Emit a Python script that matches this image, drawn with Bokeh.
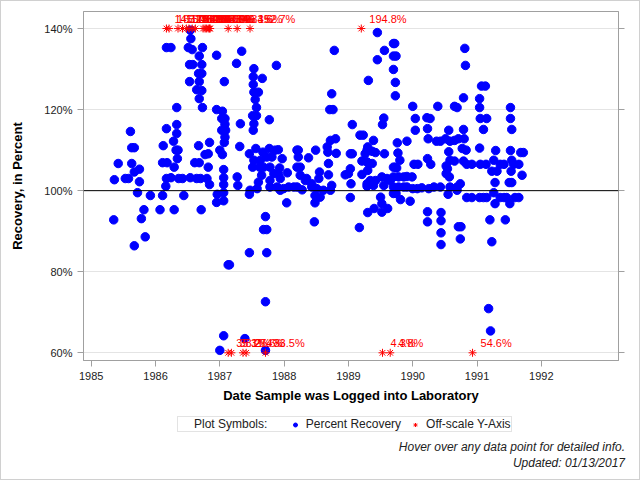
import numpy as np
from bokeh.plotting import figure
from bokeh.layouts import column
from bokeh.models import (Span, Legend, LegendItem, LinearAxis, FixedTicker, Div,
                          ColumnDataSource, Range1d)
from bokeh.core.properties import value
from bokeh.embed import file_html
from bokeh.resources import INLINE

# ---------------- data (decimal year, percent recovery) ----------------
rec_date = [
    1986.54, 1986.55, 1986.17, 1986.24, 1986.51, 1986.57, 1986.73, 1986.68, 1986.95, 1986.53,
    1986.58, 1986.72, 1986.67, 1986.72, 1986.53, 1986.68, 1987.07, 1986.64, 1986.72, 1986.68,
    1986.33, 1986.73, 1986.95, 1987.04, 1987.03, 1987.08, 1987.08, 1987.03, 1987.09, 1987.08,
    1987.07, 1987.00, 1987.04, 1985.61, 1985.63, 1985.67, 1986.17, 1986.33, 1986.33, 1986.28,
    1986.12, 1986.32, 1986.35, 1986.67, 1986.84, 1986.77, 1986.82, 1985.42, 1985.63, 1986.11,
    1986.18, 1986.34, 1986.29, 1986.61, 1986.68, 1986.82, 1985.67, 1985.75, 1985.36, 1985.53,
    1985.58, 1985.75, 1986.17, 1986.24, 1986.36, 1986.42, 1986.54, 1986.64, 1986.70, 1986.80,
    1986.84, 1986.16, 1987.06, 1987.06, 1987.06, 1987.27, 1987.28, 1985.72, 1985.92, 1986.11,
    1986.44, 1986.96, 1987.06, 1986.95, 1987.06, 1985.82, 1986.07, 1986.29, 1986.71, 1985.35,
    1985.78, 1985.84, 1985.67, 1987.13, 1987.15, 1987.06, 1987.00,
    1987.34, 1987.26, 1988.78, 1987.88, 1987.53, 1987.52, 1987.66, 1987.52, 1987.53, 1987.60,
    1987.55, 1987.57, 1987.51, 1987.57, 1987.53, 1987.52, 1987.32, 1987.77, 1988.74, 1988.71,
    1988.76, 1989.31, 1989.06, 1989.18, 1989.23, 1987.31,
    1987.46, 1987.56, 1987.67, 1987.77, 1987.86, 1987.91, 1988.20, 1988.22, 1988.49, 1988.67,
    1988.72, 1988.80, 1988.68, 1988.81, 1987.53, 1987.63, 1987.73, 1987.81, 1987.97, 1988.22,
    1988.38, 1988.69, 1987.51, 1987.62, 1987.68, 1987.78, 1987.93, 1988.20, 1988.25, 1988.55,
    1987.65, 1987.84, 1987.91, 1988.05, 1988.25, 1988.35, 1988.54, 1988.69, 1988.74, 1987.60,
    1987.78, 1987.94, 1988.33, 1988.43, 1988.15, 1987.47, 1987.58, 1987.78, 1987.89, 1987.99,
    1988.07, 1988.20, 1988.28, 1988.43, 1988.51, 1988.61, 1988.72, 1987.46, 1987.94, 1988.48,
    1988.56, 1988.04, 1988.48, 1989.03, 1989.06, 1989.30, 1989.26, 1989.21, 1989.31, 1988.95,
    1989.00, 1989.04, 1989.21, 1989.29, 1989.03, 1989.30, 1989.03, 1989.30, 1989.17,
    1987.71, 1987.68, 1987.73, 1987.46, 1987.73, 1987.71, 1988.47, 1987.39, 1987.71,
    1989.39, 1989.29, 1989.37, 1989.42, 1989.29, 1989.37, 1989.34, 1989.42, 1989.29, 1989.39,
    1989.40,
    1989.45, 1989.70, 1989.72, 1989.56, 1989.70, 1989.74, 1989.45, 1989.70, 1989.73, 1989.73,
    1990.81, 1990.82, 1990.79, 1991.07, 1991.13, 1991.04, 1991.04, 1991.52, 1990.00, 1990.39,
    1990.65, 1990.69, 1989.55, 1989.53, 1990.04, 1990.22, 1990.27, 1991.05, 1991.15, 1991.52,
    1990.04, 1990.23, 1990.79, 1991.10, 1991.54, 1990.56, 1990.24, 1990.37, 1990.43, 1990.51,
    1990.58, 1990.65, 1990.71, 1990.56, 1989.91, 1989.76, 1989.77, 1989.80, 1989.73, 1989.75,
    1989.56, 1990.80, 1990.77, 1990.83, 1991.04, 1991.29, 1991.52, 1991.68, 1991.72, 1990.02,
    1990.08, 1990.23, 1990.28, 1990.52, 1990.58, 1990.54, 1990.52, 1990.57, 1990.65, 1990.79,
    1990.84, 1990.92, 1991.05, 1991.14, 1991.26, 1991.36, 1991.42, 1991.54, 1991.57, 1991.65,
    1991.23, 1991.31, 1991.53, 1991.50, 1991.54, 1991.28, 1991.70, 1989.52, 1989.60, 1989.65,
    1989.55, 1989.70, 1989.70, 1989.78, 1989.86, 1989.91, 1989.99, 1989.70, 1989.78, 1989.86,
    1989.91, 1990.00, 1990.07, 1990.14, 1990.25, 1990.33, 1990.43, 1990.58, 1990.69, 1990.74,
    1990.69, 1989.70, 1989.74, 1989.50, 1989.52, 1989.61, 1989.52, 1989.81, 1989.96, 1990.55,
    1990.84, 1990.92, 1991.04, 1991.10, 1991.15, 1991.26, 1991.28, 1991.36, 1991.42, 1991.46,
    1991.51, 1991.59, 1991.65, 1990.23, 1990.23, 1990.44, 1990.44, 1990.44, 1990.44, 1990.71,
    1990.75, 1990.74, 1991.20, 1991.23, 1991.44, 1991.18, 1991.21,
]
rec_pct = [
    139.6, 137.5, 135.3, 135.3, 135.3, 134.8, 135.3, 133.2, 133.4, 131.1,
    131.1, 131.1, 128.9, 128.9, 126.9, 126.9, 126.9, 124.9, 124.7, 122.7,
    120.5, 120.5, 120.0, 119.6, 117.8, 117.8, 116.4, 114.9, 114.9, 113.2,
    111.9, 110.0, 108.9, 114.6, 110.6, 110.6, 115.3, 116.3, 114.1, 112.2,
    111.1, 110.0, 110.0, 111.1, 111.9, 108.9, 109.1, 106.7, 106.7, 106.9,
    106.9, 107.9, 105.8, 106.9, 106.9, 105.8, 104.6, 105.3, 102.7, 103.0,
    103.0, 102.2, 103.0, 103.2, 103.0, 103.0, 103.2, 103.0, 103.0, 103.0,
    101.5, 101.1, 105.2, 103.2, 101.5, 103.4, 101.3, 99.5, 98.8, 98.8,
    98.8, 99.1, 99.5, 97.1, 97.5, 95.3, 95.3, 95.3, 95.3, 92.8,
    93.1, 88.6, 86.4, 81.7, 81.7, 64.2, 60.6,
    134.4, 131.4, 134.6, 130.9, 130.1, 128.1, 127.7, 126.2, 124.3, 124.3,
    122.5, 120.5, 118.5, 118.5, 116.5, 114.9, 116.5, 117.5, 123.9, 120.0,
    120.0, 127.2, 116.3, 113.7, 113.7, 110.9,
    109.1, 110.4, 109.5, 110.4, 110.0, 110.1, 110.0, 110.0, 110.0, 110.8,
    112.4, 112.8, 109.5, 109.2, 107.5, 107.5, 108.3, 108.3, 107.9, 108.3,
    108.1, 106.7, 105.8, 105.8, 105.8, 105.8, 105.6, 105.8, 105.8, 104.6,
    103.8, 104.2, 104.2, 104.4, 103.8, 103.0, 103.0, 103.9, 101.3, 102.1,
    102.5, 103.0, 102.5, 101.7, 100.9, 100.1, 100.5, 100.9, 100.9, 100.5,
    100.9, 100.9, 100.2, 100.9, 100.5, 100.1, 100.1, 99.1, 100.1, 98.8,
    98.4, 97.0, 97.0, 109.1, 109.1, 110.8, 109.1, 107.3, 106.8, 103.9,
    104.2, 101.7, 104.0, 101.7, 105.4, 105.0, 98.3, 94.6, 90.9,
    93.6, 90.4, 90.4, 84.7, 84.7, 72.6, 92.3, 63.5, 60.6,
    112.4, 110.0, 109.7, 109.4, 107.1, 106.7, 102.5, 102.5, 101.1, 101.3,
    95.6,
    139.0, 136.3, 136.3, 134.6, 133.2, 133.2, 132.3, 129.9, 126.7, 123.4,
    135.1, 130.9, 122.9, 125.8, 125.8, 122.7, 120.5, 120.5, 120.8, 120.8,
    120.8, 120.5, 117.9, 116.3, 117.8, 118.0, 117.8, 117.8, 117.8, 117.8,
    114.9, 115.3, 115.1, 115.1, 115.1, 114.9, 112.8, 112.2, 112.2, 112.8,
    112.2, 112.4, 112.8, 109.6, 112.2, 111.8, 109.3, 107.5, 105.8, 105.6,
    109.1, 112.8, 110.4, 110.0, 110.5, 109.9, 109.9, 109.4, 109.4, 106.5,
    106.5, 107.9, 106.5, 106.1, 107.5, 105.4, 104.2, 103.4, 107.3, 107.3,
    106.5, 106.5, 106.5, 106.5, 107.5, 106.5, 106.5, 107.5, 106.5, 106.5,
    104.8, 104.8, 104.8, 102.0, 102.0, 102.0, 103.8, 103.4, 103.0, 102.5,
    101.3, 105.8, 103.4, 103.4, 103.4, 103.5, 103.4, 100.9, 100.9, 100.9,
    100.9, 100.5, 100.5, 100.7, 100.5, 100.9, 100.9, 100.9, 100.9, 101.7,
    100.1, 99.3, 99.3, 98.4, 96.8, 95.6, 94.7, 97.8, 97.4, 99.1,
    98.3, 98.3, 98.3, 98.3, 98.3, 99.5, 96.8, 98.3, 98.3, 98.3,
    96.8, 98.3, 98.3, 94.8, 92.3, 94.6, 92.6, 89.6, 86.7, 91.1,
    91.1, 88.1, 92.8, 87.4, 92.8, 70.9, 65.4,
]

# off-scale values (above 140% / below 60%)
high_date = [1986.17, 1986.21, 1986.35, 1986.42, 1986.48, 1986.52, 1986.57, 1986.62,
             1986.74, 1986.77, 1986.79, 1986.82, 1986.84, 1986.85, 1987.13, 1987.27,
             1987.47, 1989.20]
high_pct = [145.2, 163.0, 150.8, 171.4, 148.1, 155.3, 160.2, 142.7,
            199.0, 176.5, 181.3, 158.6, 144.2, 167.9, 149.3, 234.6,
            152.7, 194.8]
low_date = [1987.13, 1987.18, 1987.36, 1987.41, 1987.71, 1989.53, 1989.65, 1990.93]
low_pct = [35.1, 38.2, 31.4, 27.6, 33.5, 4.3, 4.8, 54.6]

year_ticks = [1985, 1986, 1987, 1988, 1989, 1990, 1991, 1992]
pct_ticks = [60, 80, 100, 120, 140]
y_top_clip = 140
y_bottom_clip = 60
footnotes = ["Hover over any data point for detailed info.", "Updated: 01/13/2017"]

FONT = "Liberation Sans"
AXIS_GRAY = "#a0a0a0"
BLUE = "#0000ff"
RED = "#ff0000"

# ---------------- main plot ----------------
p = figure(width=638, height=404, output_backend="svg", toolbar_location=None,
           x_range=Range1d(1984.88, 1993.2), y_range=Range1d(58.1, 144.2),
           min_border_left=82, min_border_right=21, min_border_top=10,
           min_border_bottom=45, background_fill_color="white",
           border_fill_color="white", outline_line_color=AXIS_GRAY)

p.xgrid.visible = False
p.ygrid.ticker = FixedTicker(ticks=pct_ticks)
p.ygrid.grid_line_color = "#e4e4e4"
p.add_layout(Span(location=100, dimension="width", line_color="black", line_width=1))

for ax in (p.xaxis[0], p.yaxis[0]):
    ax.axis_line_color = AXIS_GRAY
    ax.major_tick_line_color = AXIS_GRAY
    ax.major_tick_out = 6
    ax.major_tick_in = 0
    ax.minor_tick_line_color = None
    ax.major_label_text_font = FONT
    ax.major_label_text_font_size = "11px"
    ax.major_label_text_color = "#222222"
    ax.axis_label_text_font = FONT
    ax.axis_label_text_font_size = "13px"
    ax.axis_label_text_font_style = "bold"
    ax.axis_label_text_color = "black"
    ax.major_label_standoff = 5

p.xaxis.ticker = FixedTicker(ticks=year_ticks)
p.xaxis.major_label_overrides = {y: str(y) for y in year_ticks}
p.xaxis.axis_label = "Date Sample was Logged into Laboratory"
p.xaxis.axis_label_standoff = 5

p.yaxis.ticker = FixedTicker(ticks=pct_ticks)
p.yaxis.major_label_overrides = {t: f"{t}%" for t in pct_ticks}
p.yaxis.axis_label = "Recovery, in Percent"
p.yaxis.axis_label_standoff = 16

right = LinearAxis(ticker=FixedTicker(ticks=pct_ticks), axis_line_color=AXIS_GRAY,
                   major_tick_line_color=AXIS_GRAY, major_tick_out=6, major_tick_in=0,
                   minor_tick_line_color=None, major_label_text_font_size="1px",
                   major_label_text_alpha=0)
p.add_layout(right, "right")

src = ColumnDataSource(dict(x=rec_date, y=rec_pct))
p.scatter("x", "y", source=src, size=8.5, marker="circle",
          fill_color=BLUE, line_color=BLUE)

hi_src = ColumnDataSource(dict(x=high_date, y=[y_top_clip] * len(high_date),
                               lab=[f"{v:.1f}%" for v in high_pct]))
lo_src = ColumnDataSource(dict(x=low_date, y=[y_bottom_clip] * len(low_date),
                               lab=[f"{v:.1f}%" for v in low_pct]))
for s in (hi_src, lo_src):
    p.scatter("x", "y", source=s, marker="asterisk", size=8,
              line_color=RED, line_width=1)
    p.text("x", "y", text="lab", source=s, x_offset=8, y_offset=-10,
           text_font=value(FONT), text_font_size="11px", text_color=RED,
           text_align="left", text_baseline="middle")

# ---------------- legend strip ----------------
# (the column aligns this frame with the main plot's frame: x 83..618)
f = figure(width=638, height=32, output_backend="svg", toolbar_location=None,
           x_axis_type=None, y_axis_type=None,
           x_range=Range1d(0, 535), y_range=Range1d(0, 32),
           min_border=0, outline_line_color=None, background_fill_color="white",
           border_fill_color="white")
f.grid.visible = False

off = dict(x=[-1000], y=[-1000])
g0 = f.scatter("x", "y", source=ColumnDataSource(off), size=1, alpha=0)
g1 = f.scatter("x", "y", source=ColumnDataSource(off), size=8, marker="circle",
               fill_color=BLUE, line_color=BLUE)
g2 = f.scatter("x", "y", source=ColumnDataSource(off), size=9, marker="asterisk",
               line_color=RED, line_width=1)
leg = Legend(items=[LegendItem(label="Plot Symbols:\u00a0\u00a0\u00a0\u00a0", renderers=[g0]),
                    LegendItem(label="Percent Recovery", renderers=[g1]),
                    LegendItem(label="Off-scale Y-Axis", renderers=[g2])],
             orientation="horizontal", location=(94, 5),
             border_line_color="#c8c8c8", label_text_font=FONT,
             label_text_font_size="12px", label_text_color="#222222",
             padding=0, margin=0, spacing=9,
             label_standoff=6, glyph_width=10, glyph_height=13, label_height=13)
f.add_layout(leg)

# ---------------- footnotes ----------------
notes = Div(text=('<div style="display:block;width:624px;text-align:right;padding-top:2px;'
                  "font-family:'Liberation Sans',Arial,sans-serif;font-style:italic;"
                  'font-size:12px;line-height:16px;color:#222222">'
                  + "<br>".join(footnotes) + "</div>"),
            width=638, height=42, margin=(0, 0, 0, 0))

layout = column(p, f, notes, spacing=0, styles={"border": "1px solid #d0d0d0"})
open("out.html", "w").write(file_html(layout, INLINE))
